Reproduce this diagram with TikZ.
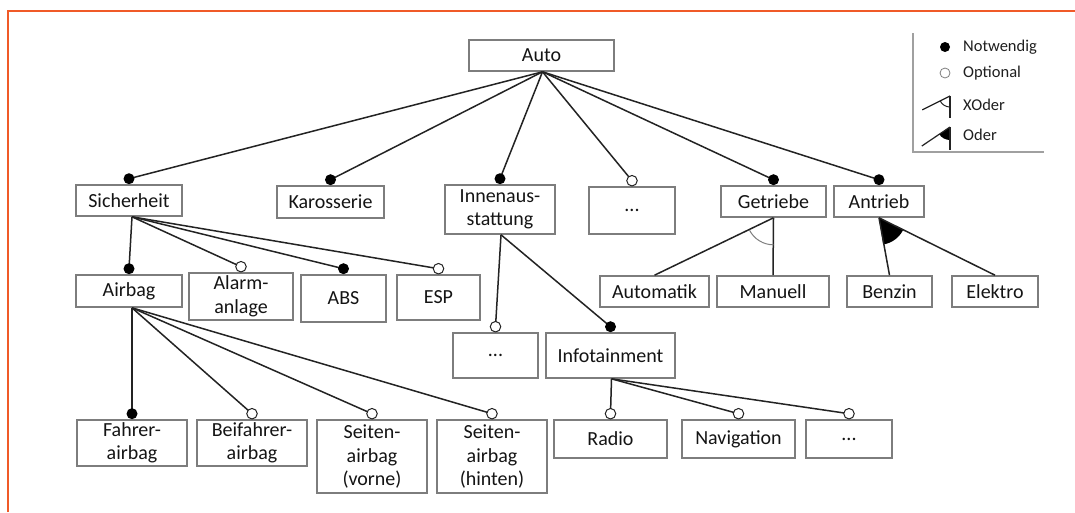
\documentclass[tikz,border=0pt]{standalone}
\usepackage{fontspec}
\setmainfont{Carlito}
\usetikzlibrary{calc}
\definecolor{frameorange}{RGB}{240,90,40}
\definecolor{boxgray}{RGB}{125,125,125}
\definecolor{linegray}{RGB}{35,35,35}
\definecolor{legendgray}{RGB}{160,160,160}
\begin{document}
\begin{tikzpicture}[x=1pt,y=1pt,
  feat/.style={draw=boxgray, line width=1.6pt, fill=white, align=center, inner sep=0pt,
    font=\fontsize{20}{23.5}\selectfont, text=black!92},
  conn/.style={draw=linegray, line width=1.5pt},
  mand/.style={circle, fill=black, inner sep=0pt, minimum size=11pt},
  opt/.style={circle, draw=linegray, fill=white, line width=1pt, inner sep=0pt, minimum size=10.5pt},
  legtext/.style={anchor=west, inner sep=0pt, font=\fontsize{16.5}{19}\selectfont, text=black!88}]
\useasboundingbox (0,0) rectangle (1075,-512);
\fill[white] (0,0) rectangle (1075,-512);
\draw[frameorange, line width=2pt] (7.5,-512) -- (7.5,-10.5) -- (1075,-10.5);

% legend
\draw[legendgray, line width=2pt] (913,-33) -- (913,-152) -- (1044,-152);
\node[mand, minimum size=10pt] (lgm) at (945,-47) {};
\node[legtext] (ltm) at (963,-47) {Notwendig};
\node[opt, draw=gray, line width=0.8pt, minimum size=10pt] (lgo) at (945,-73) {};
\node[legtext] (lto) at (963,-73) {Optional};
\coordinate (lgx) at (950,-96);
\draw[conn, line width=1.2pt] (lgx) -- ++(206.6:31);
\draw[conn, line width=1.2pt] (lgx) -- ++(270:22);
\draw[conn, line width=1pt] ($(lgx)+(206.6:11)$) arc[start angle=206.6, end angle=270, radius=11];
\node[legtext] (ltx) at (963,-105) {XOder};
\coordinate (lgd) at (950,-127);
\fill[black] (lgd) -- ++(214:13) arc[start angle=214, end angle=270, radius=13] -- cycle;
\draw[conn, line width=1.2pt] (lgd) -- ++(214:34);
\draw[conn, line width=1.2pt] (lgd) -- ++(270:23);
\node[legtext] (ltd) at (963,-135) {Oder};

% features
\node[feat, minimum width=145pt, minimum height=31pt] (auto) at (541.5,-55.5) {Auto};

\node[feat, minimum width=106pt, minimum height=31pt] (sich) at (129,-200.5) {Sicherheit};
\node[feat, minimum width=107pt, minimum height=32pt] (karo) at (330.5,-202) {Karosserie};
\node[feat, minimum width=110pt, minimum height=49pt] (innen) at (500,-209.5) {Innenaus-\\stattung};
\node[feat, minimum width=86pt, minimum height=47pt] (dotsa) at (632,-210.5) {...};
\node[feat, minimum width=105pt, minimum height=31pt] (getr) at (773.5,-201.5) {Getriebe};
\node[feat, minimum width=90pt, minimum height=31pt] (antr) at (879,-201.5) {Antrieb};

\node[feat, minimum width=106pt, minimum height=32pt] (airbag) at (129,-291) {Airbag};
\node[feat, minimum width=104pt, minimum height=47pt] (alarm) at (241,-296.5) {Alarm-\\anlage};
\node[feat, minimum width=85pt, minimum height=47pt] (abs) at (343.5,-298.5) {ABS};
\node[feat, minimum width=83pt, minimum height=45pt] (esp) at (438.5,-297.5) {ESP};
\node[feat, minimum width=109pt, minimum height=31pt] (autom) at (654.5,-291.5) {Automatik};
\node[feat, minimum width=112pt, minimum height=31pt] (man) at (773,-291.5) {Manuell};
\node[feat, minimum width=85pt, minimum height=31pt] (benz) at (889.5,-291.5) {Benzin};
\node[feat, minimum width=86pt, minimum height=31pt] (elek) at (995,-291.5) {Elektro};

\node[feat, minimum width=85pt, minimum height=45pt] (dotsb) at (495.5,-355.5) {...};
\node[feat, minimum width=129pt, minimum height=45pt] (info) at (610.5,-355.5) {Infotainment};

\node[feat, minimum width=113pt, minimum height=38pt] (radio) at (610.5,-439) {Radio};
\node[feat, minimum width=113pt, minimum height=38pt] (navi) at (738.5,-439) {Navigation};
\node[feat, minimum width=86pt, minimum height=38pt] (dotsc) at (849,-439) {...};

\node[feat, minimum width=110pt, minimum height=46pt] (fahrer) at (132,-443) {Fahrer-\\airbag};
\node[feat, minimum width=110pt, minimum height=46pt] (beif) at (252,-443) {Beifahrer-\\airbag};
\node[feat, minimum width=110pt, minimum height=73pt] (seitv) at (372,-456.5) {Seiten-\\airbag\\(vorne)};
\node[feat, minimum width=110pt, minimum height=73pt] (seith) at (492,-456.5) {Seiten-\\airbag\\(hinten)};

% marker positions
\foreach \n in {sich,karo,innen,dotsa,getr,antr,airbag,alarm,abs,esp,dotsb,info,radio,navi,dotsc,fahrer,beif,seitv,seith}
  \coordinate (c-\n) at ([yshift=5.5pt]\n.north);

% connectors
\foreach \n in {sich,karo,innen,dotsa,getr,antr}
  \draw[conn] ([xshift=1pt]auto.south) -- (c-\n);
\foreach \n in {airbag,alarm,abs,esp}
  \draw[conn] ([xshift=3pt]sich.south) -- (c-\n);
\foreach \n in {dotsb,info}
  \draw[conn] ([xshift=1pt]innen.south) -- (c-\n);
\foreach \n in {radio,navi,dotsc}
  \draw[conn] ([xshift=1pt]info.south) -- (c-\n);
\foreach \n in {fahrer,beif,seitv,seith}
  \draw[conn] ([xshift=3pt]airbag.south) -- (c-\n);

% groups
\draw[conn] (getr.south) -- (autom.north);
\draw[conn] (getr.south) -- (man.north);
\draw[draw=gray, line width=1pt] ($(getr.south)+(207:27)$) arc[start angle=207, end angle=270, radius=27];
\fill[black] (antr.south) -- ++(279:27) arc[start angle=279, end angle=333, radius=27] -- cycle;
\draw[conn] (antr.south) -- (benz.north);
\draw[conn] (antr.south) -- (elek.north);

% markers
\foreach \n in {sich,karo,innen,getr,antr,airbag,abs,info,fahrer}
  \node[mand] at (c-\n) {};
\foreach \n in {dotsa,alarm,esp,dotsb,radio,navi,dotsc,beif,seitv,seith}
  \node[opt] at (c-\n) {};
\end{tikzpicture}
\end{document}
